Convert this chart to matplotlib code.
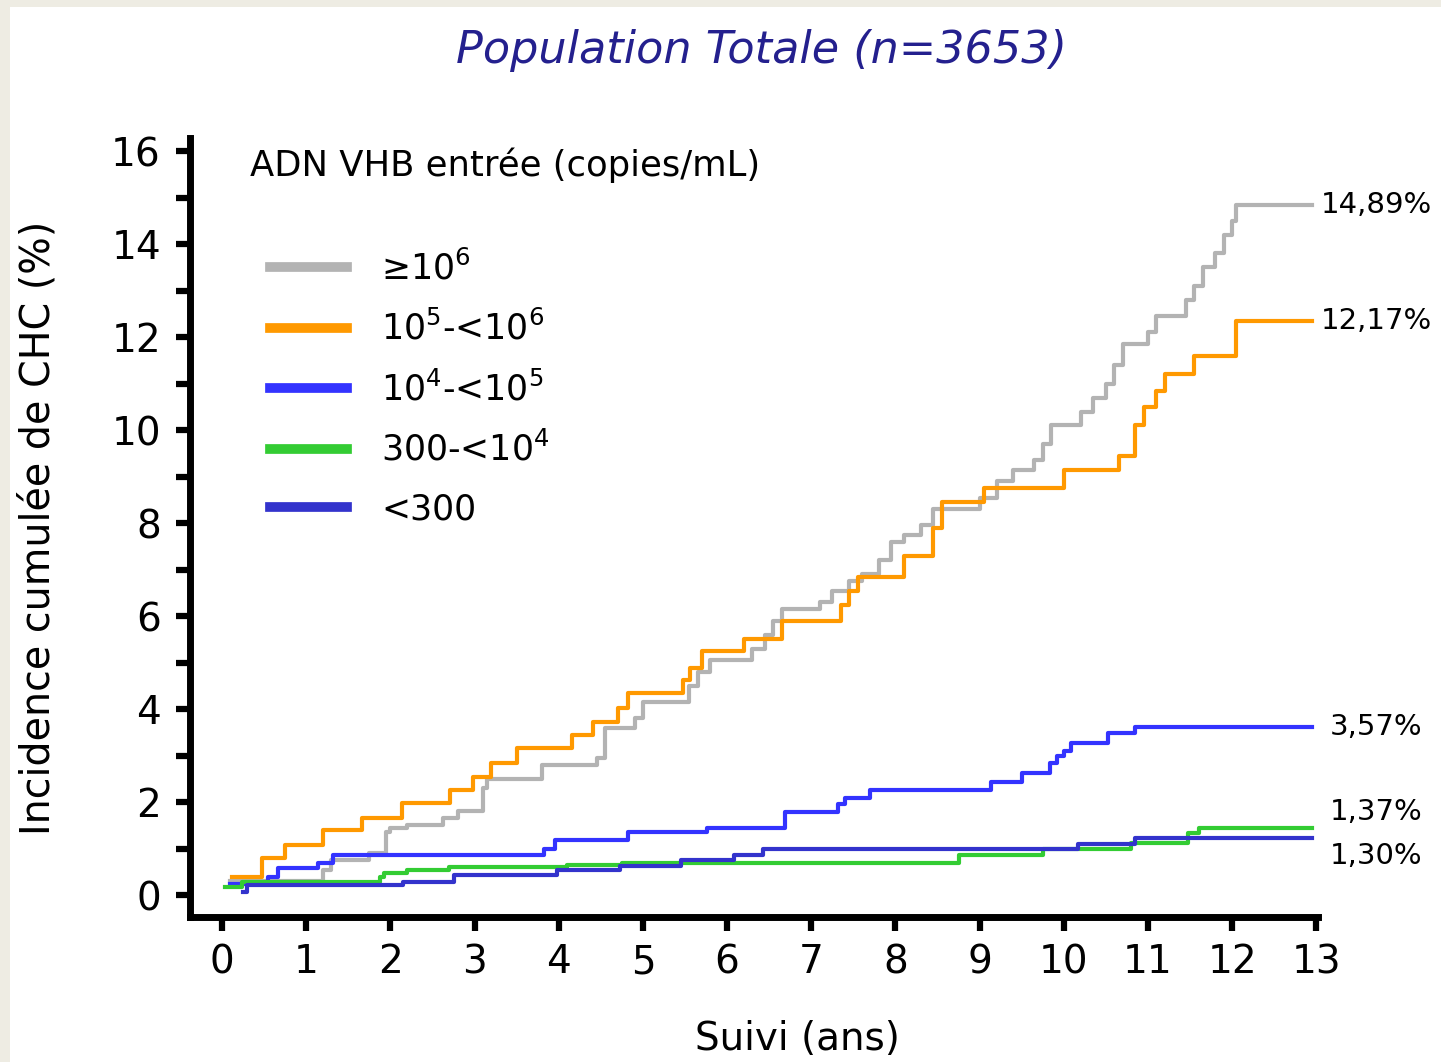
import matplotlib
matplotlib.use('Agg')
import matplotlib.pyplot as plt
from matplotlib.patches import Rectangle

# courbes d'incidence cumulée (temps en années, incidence en %)
gray_t = [0.1, 1.2, 1.3, 1.75, 1.95, 2.0, 2.2, 2.63, 2.8, 3.1, 3.15, 3.8, 4.45, 4.55, 4.9, 5.0, 5.55, 5.65, 5.8, 6.3,
          6.45, 6.55, 6.65, 7.1, 7.25, 7.45, 7.6, 7.8, 7.95, 8.1, 8.3, 8.45, 9.0, 9.2, 9.4, 9.65, 9.75, 9.85, 10.2, 10.35,
          10.5, 10.6, 10.7, 11.0, 11.1, 11.45, 11.55, 11.65, 11.8, 11.9, 12.0, 12.05, 12.95]
gray_v = [0.3, 0.55, 0.75, 0.9, 1.35, 1.45, 1.5, 1.65, 1.82, 2.3, 2.5, 2.8, 2.95, 3.6, 3.8, 4.15, 4.5, 4.8, 5.05, 5.3,
          5.6, 5.9, 6.15, 6.3, 6.55, 6.75, 6.9, 7.2, 7.6, 7.75, 7.95, 8.3, 8.55, 8.9, 9.15, 9.35, 9.7, 10.1, 10.4, 10.7,
          11.0, 11.4, 11.85, 12.1, 12.45, 12.8, 13.1, 13.5, 13.8, 14.2, 14.5, 14.85, 14.85]

orange_t = [0.12, 0.47, 0.75, 1.2, 1.66, 2.14, 2.71, 2.98, 3.2, 3.5, 4.16, 4.41, 4.7, 4.82, 5.48, 5.56, 5.7, 6.2, 6.65,
            7.35, 7.45, 7.55, 8.1, 8.45, 8.55, 9.05, 10.0, 10.65, 10.85, 10.95, 11.1, 11.2, 11.55, 12.05, 12.95]
orange_v = [0.39, 0.8, 1.08, 1.4, 1.66, 1.98, 2.26, 2.54, 2.84, 3.16, 3.44, 3.72, 4.02, 4.34, 4.62, 4.88, 5.25, 5.5, 5.9,
            6.25, 6.55, 6.85, 7.3, 7.9, 8.45, 8.75, 9.15, 9.45, 10.1, 10.5, 10.85, 11.2, 11.6, 12.35, 12.35]

blue_t = [0.1, 0.55, 0.66, 1.14, 1.32, 3.82, 3.96, 4.82, 5.76, 6.69, 7.32, 7.4, 7.7, 9.14, 9.5, 9.83, 9.92, 10.0,
          10.09, 10.52, 10.84, 12.95]
blue_v = [0.25, 0.39, 0.58, 0.69, 0.86, 1.0, 1.18, 1.35, 1.44, 1.78, 1.95, 2.1, 2.26, 2.43, 2.62, 2.84, 3.0, 3.1,
          3.27, 3.48, 3.61, 3.61]

green_t = [0.04, 0.24, 1.88, 1.92, 2.2, 2.7, 4.1, 4.75, 8.75, 9.75, 10.8, 11.48, 11.6, 12.95]
green_v = [0.17, 0.28, 0.39, 0.47, 0.54, 0.6, 0.64, 0.69, 0.86, 1.0, 1.12, 1.33, 1.44, 1.44]

dblue_t = [0.25, 0.3, 2.15, 2.75, 3.98, 4.73, 5.45, 6.08, 6.43, 10.17, 10.84, 12.95]
dblue_v = [0.06, 0.21, 0.28, 0.43, 0.54, 0.62, 0.75, 0.86, 1.0, 1.1, 1.23, 1.23]

labels = ['≥10$^{6}$', '10$^{5}$-<10$^{6}$', '10$^{4}$-<10$^{5}$', '300-<10$^{4}$', '<300']
final_labels = ['14,89%', '12,17%', '3,57%', '1,37%', '1,30%']
colors = ['#b3b3b3', '#ff9900', '#3333ff', '#33cc33', '#3333cc']

curves = [(gray_t, gray_v), (orange_t, orange_v), (blue_t, blue_v), (green_t, green_v), (dblue_t, dblue_v)]
# décalage des étiquettes de fin (points)
offsets = [(6, 0), (6, 0), (13, 0), (13, 11.5), (13, -13)]

fig = plt.figure(figsize=(14.41, 10.62), dpi=100, facecolor='#eeece3')
fig.patches.append(Rectangle((10 / 1441, 0), 1, 1 - 7 / 1062, transform=fig.transFigure,
                             facecolor='white', edgecolor='none', zorder=-10))
ax = fig.add_axes([0.1319, 0.1365, 0.7828, 0.7335])
ax.set_facecolor('white')

for (t, v), c, lab, flab, off in zip(curves, colors, labels, final_labels, offsets):
    ax.step(t, v, where='post', color=c, lw=3, label=lab)
    ax.annotate(flab, xy=(t[-1], v[-1]), xytext=off, textcoords='offset points',
                ha='left', va='center', fontsize=21, annotation_clip=False)

ax.set_xlim(-0.38, 13.02)
ax.set_ylim(-0.47, 16.28)
ax.set_xticks(range(0, 14))
ax.set_yticks(range(0, 17, 2))
ax.set_yticks(range(1, 17, 2), minor=True)

for s in ['top', 'right']:
    ax.spines[s].set_visible(False)
for s in ['left', 'bottom']:
    ax.spines[s].set_linewidth(5)

ax.tick_params(axis='both', which='both', direction='out', length=10, width=4.5, labelsize=28)
ax.tick_params(axis='x', pad=9)
ax.tick_params(axis='y', pad=11)

ax.set_ylabel('Incidence cumulée de CHC (%)', fontsize=28.5)
ax.yaxis.set_label_coords(-0.117, 0.5)
ax.set_xlabel('Suivi (ans)', fontsize=28)
ax.xaxis.set_label_coords(0.538, -0.132)

ax.text(0.053, 0.965, 'ADN VHB entrée (copies/mL)', transform=ax.transAxes,
        ha='left', va='center', fontsize=25.5)
leg = ax.legend(loc='upper left', bbox_to_anchor=(0.071, 0.856), frameon=False, fontsize=25,
                borderpad=0, borderaxespad=0, handlelength=2.2, handletextpad=1.0, labelspacing=0.7)
for h in leg.get_lines():
    h.set_linewidth(7)

fig.text(762 / 1441, 1 - 50 / 1062, 'Population Totale (n=3653)', ha='center', va='center',
         fontsize=32, style='italic', color='#24208e')

fig.savefig('out.png', dpi=100, facecolor=fig.get_facecolor())
